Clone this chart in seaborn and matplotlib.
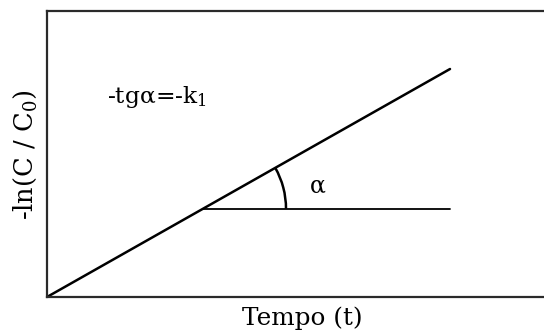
import numpy as np
import seaborn as sns
from matplotlib import pyplot as plt
from matplotlib.patches import Arc

# schematic first-order kinetics plot, units chosen so 1 unit ~ 10 px on both axes
t_line = [0.0, 40.3]
y_line = [0.0, 22.8]

t_base = [15.6, 40.3]
y_base = [8.83, 8.83]

arc_center = (15.6, 8.83)
arc_radius = 8.3
arc_angle = float(np.degrees(np.arctan2(y_line[1] - y_line[0], t_line[1] - t_line[0])))

sns.set_style("white")
plt.rcParams['font.family'] = ['DejaVu Serif', 'DejaVu Sans']
plt.rcParams['mathtext.fontset'] = 'dejavuserif'
plt.rcParams['text.color'] = 'black'

fig = plt.figure(figsize=(5.44, 3.33), dpi=100)
# axes run past the right edge of the figure, so no right border shows
ax = fig.add_axes([47 / 544, 36 / 333, 510 / 544, 286 / 333])

sns.lineplot(x=t_line, y=y_line, ax=ax, color='black', linewidth=1.8)
sns.lineplot(x=t_base, y=y_base, ax=ax, color='black', linewidth=1.3)

ax.add_patch(Arc(arc_center, 2 * arc_radius, 2 * arc_radius,
                 theta1=0, theta2=arc_angle, color='black', linewidth=1.8))

ax.text(6.0, 20.0, r'-tgα=-k$_1$', fontsize=16.8, va='center', ha='left')
ax.text(27.1, 11.1, 'α', fontsize=17, va='center', ha='center')

ax.set_xlim(0, 51.0)
ax.set_ylim(0, 28.6)
ax.set_xticks([])
ax.set_yticks([])

for side in ['left', 'top', 'bottom']:
    ax.spines[side].set_color('#2a2a2a')
    ax.spines[side].set_linewidth(1.6)
ax.spines['right'].set_visible(False)

fig.text(302 / 544, 1 - 318 / 333, 'Tempo (t)', fontsize=17.8, ha='center', va='center')
fig.text(25 / 544, 1 - 155 / 333, r'-ln(C / C$_0$)', fontsize=18.5, ha='center', va='center',
         rotation=90)

fig.savefig('out.png', dpi=100)
